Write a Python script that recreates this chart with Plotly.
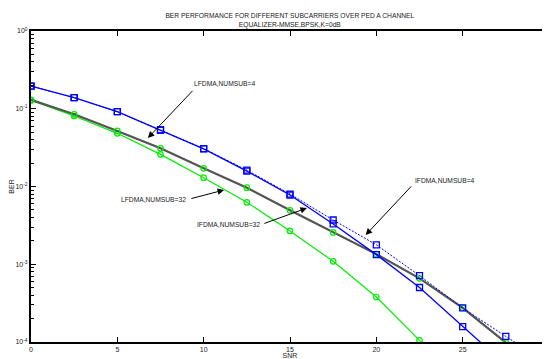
import plotly.graph_objects as go

snr = [0, 2.5, 5, 7.5, 10, 12.5, 15, 17.5, 20, 22.5, 25, 27.5, 30]

blue_solid = [0.196, 0.139, 0.0916, 0.0533, 0.0304, 0.0158, 0.00778, 0.0033, 0.00133, 0.000502, 0.000158, 5.0e-5, 1.6e-5]
blue_dotted = [0.196, 0.139, 0.0916, 0.0533, 0.0307, 0.0162, 0.0080, 0.00371, 0.00178, 0.000713, 0.000274, 0.000118, 5.1e-5]
green_upper = [0.130, 0.0849, 0.0518, 0.031, 0.01714, 0.00966, 0.00494, 0.00257, 0.00135, 0.000659, 0.000275, 9.8e-5, 3.5e-5]
green_lower = [0.128, 0.0807, 0.0483, 0.0259, 0.01298, 0.00626, 0.00268, 0.00109, 0.000379, 0.000105, 2.0e-5, 3e-6, 5e-7]

x_ticks = [0, 5, 10, 15, 20, 25, 30]
y_tickvals = [1, 0.1, 0.01, 0.001, 0.0001]
y_ticktext = ["10<sup>0</sup>", "10<sup>-1</sup>", "10<sup>-2</sup>", "10<sup>-3</sup>", "10<sup>-4</sup>"]

title_lines = ["BER PERFORMANCE FOR DIFFERENT SUBCARRIERS OVER PED A CHANNEL",
               "EQUALIZER-MMSE,BPSK,K=0dB"]

# annotation: (text, anchor, text_x, text_logy, tip_x, tip_logy, tail_x, tail_logy)
labels = [
    ("LFDMA,NUMSUB=4", "left", 9.3, -0.68, 6.77, -1.376, 9.44, -0.75),
    ("IFDMA,NUMSUB=4", "left", 22.1, -1.925, 19.38, -2.624, 22.1, -1.98),
    ("LFDMA,NUMSUB=32", "right", 9.1, -2.17, 11.18, -2.045, 9.2, -2.16),
    ("IFDMA,NUMSUB=32", "right", 13.35, -2.49, 15.98, -2.277, 13.43, -2.482),
]

FONT = "Liberation Sans, Arial, sans-serif"

fig = go.Figure()

fig.add_trace(go.Scatter(x=snr, y=green_lower, mode="lines+markers",
                         line=dict(color="#00ee00", width=1.2),
                         marker=dict(symbol="circle-open", size=5.5, color="#00ee00", line=dict(width=1.2))))
fig.add_trace(go.Scatter(x=snr, y=green_upper, mode="lines",
                         line=dict(color="#00ee00", width=1.2)))
fig.add_trace(go.Scatter(x=snr, y=green_upper, mode="lines",
                         line=dict(color="#555555", width=2.2)))
fig.add_trace(go.Scatter(x=snr, y=green_upper, mode="markers",
                         marker=dict(symbol="circle-open", size=5.5, color="#00ee00", line=dict(width=1.2))))
fig.add_trace(go.Scatter(x=snr, y=blue_dotted, mode="lines+markers",
                         line=dict(color="#0000ff", width=1, dash="2px,1.5px"),
                         marker=dict(symbol="square-open", size=6, color="#0000ff", line=dict(width=1.3))))
fig.add_trace(go.Scatter(x=snr, y=blue_solid, mode="lines+markers",
                         line=dict(color="#0000ff", width=1.3),
                         marker=dict(symbol="square-open", size=6, color="#0000ff", line=dict(width=1.3))))

for text, anchor, tx, ty, hx, hy, ax, ay in labels:
    fig.add_annotation(x=hx, y=hy, ax=ax, ay=ay, axref="x", ayref="y",
                       xref="x", yref="y", text="", showarrow=True,
                       arrowhead=2, arrowsize=1.3, arrowwidth=1, arrowcolor="black")
    fig.add_annotation(x=tx, y=ty, xref="x", yref="y", text=text, showarrow=False,
                       xanchor=anchor, yanchor="middle",
                       font=dict(size=6.7, color="#222222", family=FONT))

# the page body adds an 8px offset; sizes compensate so the plot area sits where the reference has it
fig.update_layout(
    width=542, height=351,
    margin=dict(l=23, r=1, t=23, b=17),
    paper_bgcolor="white", plot_bgcolor="white",
    showlegend=False,
    font=dict(family=FONT, size=7, color="#222222"),
    title=dict(text="<br>".join(title_lines), x=0.52, xanchor="center",
               y=0.972, yanchor="top", font=dict(size=6.7, family=FONT, color="#222222")),
    xaxis=dict(range=[0, 30], tickvals=x_ticks, ticks="inside", ticklen=5, tickwidth=1,
               tickcolor="black", showline=True, linecolor="black", linewidth=2, mirror="ticks",
               showgrid=False, zeroline=False, automargin=False,
               title=dict(text="SNR", font=dict(size=7), standoff=2),
               tickfont=dict(size=7)),
    yaxis=dict(type="log", range=[-4, 0], tickvals=y_tickvals, ticktext=y_ticktext,
               ticks="inside", ticklen=5, tickwidth=1, tickcolor="black",
               showline=True, linecolor="black", linewidth=2, mirror="ticks",
               showgrid=False, zeroline=False, automargin=False,
               minor=dict(ticks="inside", ticklen=3, tickcolor="black", dtick="D1", showgrid=False),
               title=dict(text="BER", font=dict(size=7), standoff=4),
               tickfont=dict(size=7)),
)

fig.write_html("out.html")
